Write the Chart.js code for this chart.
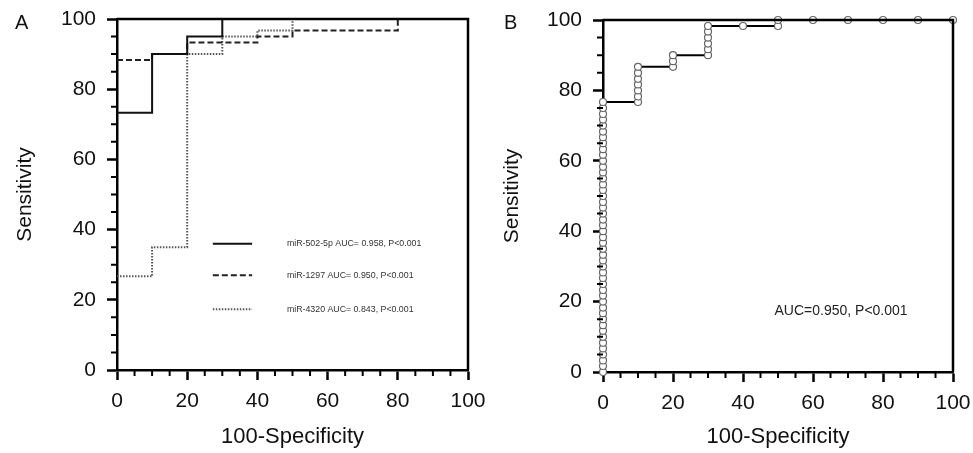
<!DOCTYPE html>
<html>
<head>
<meta charset="utf-8">
<script src="https://cdn.jsdelivr.net/npm/chart.js@4.4.1/dist/chart.umd.min.js"></script>
<style>
  html, body { margin: 0; padding: 0; background: #fff; }
  #wrap { position: relative; width: 973px; height: 453px; }
  canvas { position: absolute; top: 0; }
  #chartA { left: 0; }
  #chartB { left: 487px; }
</style>
</head>
<body>
<div id="wrap">
  <canvas id="chartA" width="487" height="453"></canvas>
  <canvas id="chartB" width="486" height="453"></canvas>
</div>
<script>
// panel A - three ROC curves, (100-specificity, sensitivity) corners
const mir502X = [0, 10, 20, 30, 100];
const mir502Y = [73.3, 90, 95, 100, 100];
const mir1297X = [0, 10, 20, 40, 50, 80, 100];
const mir1297Y = [88.3, 90, 93.3, 95, 96.7, 100, 100];
const mir4320X = [0, 10, 20, 30, 40, 50, 100];
const mir4320Y = [26.7, 35, 90, 95, 96.7, 100, 100];
const legendLabels = [
  'miR-502-5p AUC= 0.958, P<0.001',
  'miR-1297 AUC= 0.950, P<0.001',
  'miR-4320 AUC= 0.843, P<0.001'
];

// panel B - combined ROC, one circle per threshold
const rocBX = [
  0, 0, 0, 0, 0, 0, 0, 0, 0, 0,
  0, 0, 0, 0, 0, 0, 0, 0, 0, 0,
  0, 0, 0, 0, 0, 0, 0, 0, 0, 0,
  0, 0, 0, 0, 0, 0, 0, 0, 0, 0,
  0, 0, 0, 0, 0, 0, 0,
  10, 10, 10, 10, 10, 10, 10,
  20, 20, 20,
  30, 30, 30, 30, 30, 30,
  40,
  50, 50,
  60, 70, 80, 90, 100
];
const rocBY = [
  0, 1.7, 3.3, 5, 6.7, 8.3, 10, 11.7, 13.3, 15,
  16.7, 18.3, 20, 21.7, 23.3, 25, 26.7, 28.3, 30, 31.7,
  33.3, 35, 36.7, 38.3, 40, 41.7, 43.3, 45, 46.7, 48.3,
  50, 51.7, 53.3, 55, 56.7, 58.3, 60, 61.7, 63.3, 65,
  66.7, 68.3, 70, 71.7, 73.3, 75, 76.7,
  76.7, 78.3, 80, 81.7, 83.3, 85, 86.7,
  86.7, 88.3, 90,
  90, 91.7, 93.3, 95, 96.7, 98.3,
  98.3,
  98.3, 100,
  100, 100, 100, 100, 100
];
const aucLabelB = 'AUC=0.950, P<0.001';

const minorTicks = [5, 10, 15, 25, 30, 35, 45, 50, 55, 65, 70, 75, 85, 90, 95];

const FONT = "'Liberation Sans', Arial, sans-serif";
Chart.defaults.font.family = FONT;
Chart.defaults.color = '#111';

const pts = (xs, ys) => xs.map((x, i) => ({ x: x, y: ys[i] }));

// box on top/right plus the short minor ticks and the panel letter
const frame = {
  id: 'frame',
  afterDraw(chart) {
    const { ctx, chartArea: a, scales } = chart;
    const opts = chart.options.plugins.frame;
    ctx.save();
    ctx.strokeStyle = '#000';
    ctx.lineWidth = 2.5;
    ctx.beginPath();
    ctx.moveTo(a.left, a.top);
    ctx.lineTo(a.right, a.top);
    ctx.lineTo(a.right, a.bottom);
    ctx.stroke();
    ctx.lineWidth = 2;
    ctx.beginPath();
    minorTicks.forEach(v => {
      const px = scales.x.getPixelForValue(v);
      ctx.moveTo(px, a.bottom);
      ctx.lineTo(px, a.bottom + 6);
      const py = scales.y.getPixelForValue(v);
      ctx.moveTo(a.left, py);
      ctx.lineTo(a.left - 6, py);
    });
    ctx.stroke();
    ctx.fillStyle = '#111';
    ctx.font = '20px ' + FONT;
    ctx.textBaseline = 'top';
    ctx.fillText(opts.letter, opts.letterX, 13);
    ctx.restore();
  }
};

const legendA = {
  id: 'legendA',
  afterDatasetsDraw(chart) {
    const { ctx, scales: { x, y } } = chart;
    const rows = [36, 27, 17.3];
    chart.data.datasets.forEach((ds, i) => {
      const py = y.getPixelForValue(rows[i]);
      ctx.save();
      ctx.strokeStyle = ds.borderColor;
      ctx.lineWidth = ds.borderWidth;
      ctx.setLineDash(ds.borderDash || []);
      ctx.beginPath();
      ctx.moveTo(x.getPixelForValue(27.3), py);
      ctx.lineTo(x.getPixelForValue(38.5), py);
      ctx.stroke();
      ctx.setLineDash([]);
      ctx.fillStyle = '#333';
      ctx.font = '8.8px ' + FONT;
      ctx.textBaseline = 'middle';
      ctx.fillText(legendLabels[i], x.getPixelForValue(48.4), py);
      ctx.restore();
    });
  }
};

const aucB = {
  id: 'aucB',
  afterDatasetsDraw(chart) {
    const { ctx, scales: { x, y } } = chart;
    ctx.save();
    ctx.fillStyle = '#222';
    ctx.font = '14px ' + FONT;
    ctx.textBaseline = 'middle';
    ctx.fillText(aucLabelB, x.getPixelForValue(49), y.getPixelForValue(17.3));
    ctx.restore();
  }
};

function axes(yWidth, xHeight) {
  const common = {
    type: 'linear', min: 0, max: 100,
    border: { display: true, width: 2.5, color: '#000' },
    grid: { drawOnChartArea: false, drawTicks: true, tickLength: 10, tickWidth: 2.5, tickColor: '#000' },
    ticks: { stepSize: 20, font: { size: 21 }, color: '#111' }
  };
  return {
    x: {
      ...common,
      ticks: { ...common.ticks, padding: 9, maxRotation: 0 },
      title: { display: true, text: '100-Specificity', font: { size: 22 }, color: '#111', padding: { top: 0, bottom: 3 } },
      afterFit: s => { s.height = xHeight; s.paddingLeft = 0; s.paddingRight = 0; }
    },
    y: {
      ...common,
      ticks: { ...common.ticks, padding: 11 },
      title: { display: true, text: 'Sensitivity', font: { size: 21 }, color: '#111', padding: { top: 13, bottom: 0 } },
      afterFit: s => { s.width = yWidth; s.paddingTop = 0; s.paddingBottom = 0; }
    }
  };
}

new Chart(document.getElementById('chartA'), {
  type: 'line',
  data: {
    datasets: [
      { label: 'miR-502-5p', data: pts(mir502X, mir502Y), borderColor: '#111', borderWidth: 2, stepped: 'before', pointRadius: 0, clip: false },
      { label: 'miR-1297', data: pts(mir1297X, mir1297Y), borderColor: '#222', borderWidth: 2, borderDash: [6, 3], stepped: 'before', pointRadius: 0, clip: false },
      { label: 'miR-4320', data: pts(mir4320X, mir4320Y), borderColor: '#555', borderWidth: 2, borderDash: [1.5, 1.5], stepped: 'before', pointRadius: 0, clip: false }
    ]
  },
  options: {
    responsive: false,
    animation: false,
    layout: { padding: { left: 0, top: 19, right: 19, bottom: 0 } },
    scales: axes(117, 83),
    plugins: { legend: { display: false }, tooltip: { enabled: false }, frame: { letter: 'A', letterX: 15 } }
  },
  plugins: [legendA, frame]
});

new Chart(document.getElementById('chartB'), {
  type: 'line',
  data: {
    datasets: [
      {
        label: 'ROC', data: pts(rocBX, rocBY),
        borderColor: '#000', borderWidth: 2,
        pointRadius: 3.5, pointBackgroundColor: '#fff', pointBorderColor: '#666', pointBorderWidth: 1.2,
        clip: false
      }
    ]
  },
  options: {
    responsive: false,
    animation: false,
    layout: { padding: { left: 0, top: 20, right: 20, bottom: 0 } },
    scales: axes(116, 81),
    plugins: { legend: { display: false }, tooltip: { enabled: false }, frame: { letter: 'B', letterX: 17 } }
  },
  plugins: [aucB, frame]
});
</script>
</body>
</html>
